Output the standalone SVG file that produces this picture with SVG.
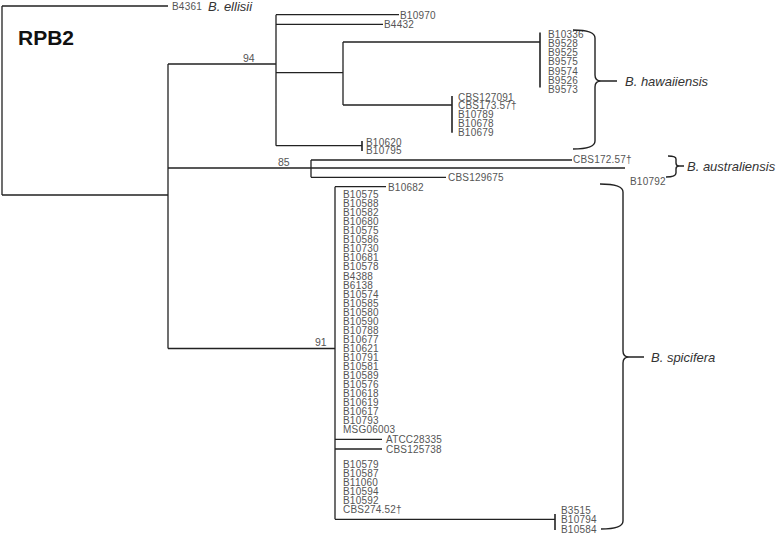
<svg xmlns="http://www.w3.org/2000/svg" width="777" height="535" viewBox="0 0 777 535">
<style>
.e{stroke:#222;stroke-width:1.3;fill:none}
.k{stroke:#222;stroke-width:1.6;fill:none}
.b{stroke:#222;stroke-width:1.4;fill:none}
.t{font-family:"Liberation Sans",Arial,sans-serif;font-size:10px;letter-spacing:0.2px;fill:#555}
.s{font-family:"Liberation Sans",Arial,sans-serif;font-size:13px;font-style:italic;fill:#333}
.n{font-family:"Liberation Sans",Arial,sans-serif;font-size:10.5px;fill:#555}
</style>
<rect width="777" height="535" fill="#fff"/>
<text id="title" x="18" y="45" font-family="Liberation Sans,Arial,sans-serif" font-size="21" font-weight="bold" fill="#111">RPB2</text>
<g id="connectors">
<path class="e" d="M2,6V195M2,6H168M2,195H168M168,64V348.5"/>
<path class="e" d="M168,64H276M276,14.7V145.7M276,14.7H399M276,24.3H383M276,72.7H343M343,42V105M343,42H540M343,105H452M276,145.7H362"/>
<path class="k" d="M540,32.5V87.5M452,96V132.7M362,141V151"/>
<path class="e" d="M168,168H625M311,160V177.3M311,160H572M311,177.3H446"/>
<path class="e" d="M168,348.5H335M335,186.7V519.3M335,186.7H386M335,439.3H382M335,449H382M335,519.3H555"/>
<path class="k" d="M555,514V530"/>
</g>
<g id="node-ellisii">
<text class="t" x="172" y="10">B4361</text>
<text class="s" x="208" y="10.5">B. ellisii</text>
</g>
<g id="support">
<text class="n" x="243" y="62">94</text>
<text class="n" x="278" y="166">85</text>
<text class="n" x="315" y="346">91</text>
</g>
<g id="node-hawaiiensis-tips" class="t">
<text x="400" y="18.5">B10970</text>
<text x="384" y="28.2">B4432</text>
<text x="548" y="38.1">B10336</text>
<text x="548" y="47.2">B9528</text>
<text x="548" y="56.3">B9525</text>
<text x="548" y="65.4">B9575</text>
<text x="548" y="74.5">B9574</text>
<text x="548" y="83.6">B9526</text>
<text x="548" y="92.7">B9573</text>
<text x="458" y="100.5">CBS127091</text>
<text x="458" y="109.4">CBS173.57†</text>
<text x="458" y="118.3">B10789</text>
<text x="458" y="127.2">B10678</text>
<text x="458" y="136.1">B10679</text>
<text x="366" y="145.5">B10620</text>
<text x="366" y="154">B10795</text>
</g>
<g id="node-australiensis-tips" class="t">
<text x="573" y="163">CBS172.57†</text>
<text x="448" y="181">CBS129675</text>
<text x="630" y="184.5">B10792</text>
</g>
<g id="node-spicifera-tips" class="t">
<text x="388" y="190.5">B10682</text>
<text x="343" y="198.1">B10575</text>
<text x="343" y="207.1">B10588</text>
<text x="343" y="216.2">B10582</text>
<text x="343" y="225.2">B10680</text>
<text x="343" y="234.3">B10575</text>
<text x="343" y="243.3">B10586</text>
<text x="343" y="252.3">B10730</text>
<text x="343" y="261.4">B10681</text>
<text x="343" y="270.4">B10578</text>
<text x="343" y="279.5">B4388</text>
<text x="343" y="288.5">B6138</text>
<text x="343" y="297.5">B10574</text>
<text x="343" y="306.6">B10585</text>
<text x="343" y="315.6">B10580</text>
<text x="343" y="324.7">B10590</text>
<text x="343" y="333.7">B10788</text>
<text x="343" y="342.7">B10677</text>
<text x="343" y="351.8">B10621</text>
<text x="343" y="360.8">B10791</text>
<text x="343" y="369.9">B10581</text>
<text x="343" y="378.9">B10589</text>
<text x="343" y="387.9">B10576</text>
<text x="343" y="397">B10618</text>
<text x="343" y="406">B10619</text>
<text x="343" y="415.1">B10617</text>
<text x="343" y="424.1">B10793</text>
<text x="343" y="433.1">MSG06003</text>
<text x="386" y="443.1">ATCC28335</text>
<text x="386" y="452.8">CBS125738</text>
<text x="343" y="467.8">B10579</text>
<text x="343" y="476.9">B10587</text>
<text x="343" y="486">B11060</text>
<text x="343" y="495.1">B10594</text>
<text x="343" y="504.2">B10592</text>
<text x="343" y="513.3">CBS274.52†</text>
<text x="561" y="513.8">B3515</text>
<text x="561" y="523.1">B10794</text>
<text x="561" y="533">B10584</text>
</g>
<g id="brace-hawaiiensis">
<path class="b" d="M573,30Q595,30 595,38V75Q595,81 601,81H617M601,81Q595,81 595,87V141Q595,149 573,149"/>
<text class="s" x="625" y="86">B. hawaiiensis</text>
</g>
<g id="brace-australiensis">
<path class="b" d="M668,156Q676,156 676,159V163Q676,166 679,166H684M679,166Q676,166 676,169V173Q676,177 666,177"/>
<text class="s" x="687" y="171">B. australiensis</text>
</g>
<g id="brace-spicifera">
<path class="b" d="M600,184Q623,184 623,192V351Q623,357 629,357H644M629,357Q623,357 623,363V521Q623,529 601,529"/>
<text class="s" x="651" y="362">B. spicifera</text>
</g>
</svg>
